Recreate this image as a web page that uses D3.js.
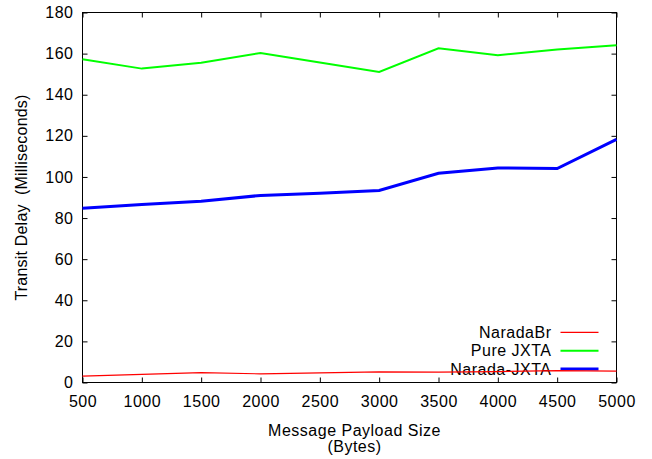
<!DOCTYPE html>
<html lang="en">
<head>
    <meta charset="UTF-8">
    <title>Transit Delay vs Message Payload Size</title>
    <script src="https://d3js.org/d3.v7.min.js"></script>
    <style>
        body {
            margin: 0;
            background-color: #fff;
            font-family: "Liberation Sans", Arial, sans-serif;
        }
        text {
            letter-spacing: 0.5px;
        }
        .axis text {
            font-size: 16px;
            fill: #000;
        }
    </style>
</head>
<body>
    <svg id="chart" width="652" height="459"></svg>
    <script>
        const sizes = [500, 1000, 1500, 2000, 2500, 3000, 3500, 4000, 4500, 5000];
        const naradaBr = [3.1, 4.0, 4.8, 4.2, 4.7, 5.2, 5.0, 5.3, 5.8, 5.5];
        const pureJxta = [157.3, 152.7, 155.6, 160.3, 155.7, 151.1, 162.6, 159.2, 162.0, 164.1];
        const naradaJxta = [84.8, 86.6, 88.2, 91.0, 92.1, 93.4, 101.8, 104.4, 104.1, 118.3];
        const yTicks = [0, 20, 40, 60, 80, 100, 120, 140, 160, 180];

        const series = [
            { name: "NaradaBr", values: naradaBr, color: "#ff0000", width: 1.2 },
            { name: "Pure JXTA", values: pureJxta, color: "#00ff00", width: 2 },
            { name: "Narada-JXTA", values: naradaJxta, color: "#0000ff", width: 3 }
        ];

        const margin = { top: 12.5, right: 35.5, bottom: 76.5, left: 82.5 };
        const width = 652 - margin.left - margin.right;
        const height = 459 - margin.top - margin.bottom;

        const svg = d3.select("#chart")
            .append("g")
            .attr("transform", `translate(${margin.left}, ${margin.top})`);

        const x = d3.scaleLinear().domain([500, 5000]).range([0, width]);
        const y = d3.scaleLinear().domain([0, 180]).range([height, 0]);

        // mirrored inward ticks on all four sides, gnuplot style
        const tickLen = 5;
        svg.append("g").attr("class", "axis")
            .attr("transform", `translate(0, ${height})`)
            .call(d3.axisBottom(x).tickValues(sizes).tickFormat(d3.format("d"))
                .tickSizeInner(-tickLen).tickSizeOuter(0).tickPadding(13))
            .call(g => g.select(".domain").remove());
        svg.append("g").attr("class", "axis")
            .call(d3.axisTop(x).tickValues(sizes).tickSizeInner(-tickLen).tickSizeOuter(0).tickFormat(""))
            .call(g => g.select(".domain").remove());
        svg.append("g").attr("class", "axis")
            .call(d3.axisLeft(y).tickValues(yTicks).tickSizeInner(-tickLen).tickSizeOuter(0).tickPadding(9))
            .call(g => g.select(".domain").remove());
        svg.append("g").attr("class", "axis")
            .attr("transform", `translate(${width}, 0)`)
            .call(d3.axisRight(y).tickValues(yTicks).tickSizeInner(-tickLen).tickSizeOuter(0).tickFormat(""))
            .call(g => g.select(".domain").remove());

        svg.append("rect")
            .attr("width", width)
            .attr("height", height)
            .attr("fill", "none")
            .attr("stroke", "#000");

        const line = d3.line()
            .x((d, i) => x(sizes[i]))
            .y(d => y(d));

        // legend (drawn before lines so the red line passes over the last label)
        const legend = svg.append("g")
            .attr("transform", `translate(${width - 65}, ${y(24.4)})`);
        series.forEach((s, i) => {
            const g = legend.append("g").attr("transform", `translate(0, ${i * 18.3})`);
            g.append("text")
                .attr("x", 0)
                .attr("dy", "0.35em")
                .attr("text-anchor", "end")
                .style("font-size", "16px")
                .text(s.name);
            g.append("line")
                .attr("x1", 9).attr("x2", 47)
                .attr("stroke", s.color)
                .attr("stroke-width", s.width);
        });

        series.forEach(s => {
            svg.append("path")
                .datum(s.values)
                .attr("fill", "none")
                .attr("stroke", s.color)
                .attr("stroke-width", s.width)
                .attr("d", line);
        });

        svg.append("text")
            .attr("transform", `translate(${-56}, ${height / 2}) rotate(-90)`)
            .attr("text-anchor", "middle")
            .style("font-size", "16px")
            .style("letter-spacing", "0.2px")
            .style("white-space", "pre")
            .attr("xml:space", "preserve")
            .text("Transit Delay  (Milliseconds)");

        svg.append("text")
            .attr("x", width / 2 + 5)
            .attr("y", height + 53)
            .attr("text-anchor", "middle")
            .style("font-size", "16px")
            .text("Message Payload Size");
        svg.append("text")
            .attr("x", width / 2 + 5)
            .attr("y", height + 69)
            .attr("text-anchor", "middle")
            .style("font-size", "16px")
            .text("(Bytes)");
    </script>
</body>
</html>
